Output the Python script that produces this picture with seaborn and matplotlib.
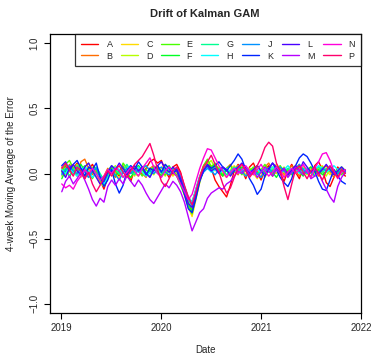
import numpy as np
import pandas as pd
import matplotlib
matplotlib.use("Agg")
import matplotlib.pyplot as plt
import matplotlib.dates as mdates
from matplotlib.lines import Line2D
import seaborn as sns

labels = ["A", "B", "C", "D", "E", "F", "G", "H", "J", "K", "L", "M", "N", "P"]
colors = ["#FF0000", "#FF6D00", "#FFDB00", "#B6FF00", "#49FF00", "#00FF24", "#00FF92",
          "#00FFFF", "#0092FF", "#0024FF", "#4900FF", "#B600FF", "#FF00DB", "#FF006D"]

start_date = "2019-01-04"
n_points = 75
step_days = 14

A = [0.02, 0.06, -0.03, 0.04, 0.08, 0.01, -0.04, 0.03, 0.07, 0.02, -0.05, -0.12, -0.03, 0.04, 0.01,
     -0.02, 0.05, 0.00, -0.06, 0.03, 0.06, -0.01, 0.04, 0.09, 0.11, 0.08, 0.10, 0.02, -0.03, 0.05,
     0.07, 0.01, -0.10, -0.18, -0.22, -0.12, -0.02, 0.06, 0.10, 0.04, -0.05, -0.10, -0.14, -0.18, -0.09,
     0.02, 0.07, 0.03, -0.04, 0.05, 0.08, 0.01, -0.05, 0.03, 0.06, -0.02, 0.04, 0.00, -0.06, 0.02,
     0.07, 0.01, -0.04, 0.05, 0.02, -0.03, 0.06, 0.09, 0.03, -0.07, -0.10, -0.03, 0.05, 0.01, -0.02]
B = [0.05, 0.01, 0.07, 0.03, -0.02, 0.09, 0.11, 0.04, -0.01, 0.03, -0.06, -0.02, 0.04, 0.00, -0.03,
     0.02, 0.06, 0.01, -0.04, 0.02, 0.05, 0.00, -0.03, 0.04, 0.06, 0.02, -0.02, 0.05, 0.01, -0.01,
     0.03, -0.06, -0.14, -0.22, -0.28, -0.16, -0.04, 0.05, 0.08, 0.03, 0.06, 0.01, -0.02, 0.04, 0.07,
     0.02, -0.01, 0.05, 0.03, -0.02, 0.04, 0.01, -0.03, 0.05, 0.08, 0.02, 0.00, 0.04, -0.01, 0.03,
     0.06, 0.02, -0.02, 0.04, 0.01, 0.05, 0.02, -0.02, 0.03, 0.06, 0.01, -0.03, 0.02, 0.04, 0.00]
C = [-0.02, 0.04, 0.01, 0.06, 0.02, -0.03, 0.05, 0.08, 0.03, -0.02, -0.08, -0.04, 0.02, 0.05, 0.00,
     -0.04, 0.03, 0.06, 0.01, -0.02, 0.04, 0.02, -0.01, 0.03, 0.05, 0.00, 0.04, 0.07, 0.02, -0.02,
     0.01, -0.08, -0.17, -0.26, -0.33, -0.20, -0.06, 0.04, 0.09, 0.06, 0.02, 0.05, 0.00, -0.03, 0.03,
     0.06, 0.02, 0.04, -0.01, 0.03, 0.00, -0.04, 0.02, 0.05, 0.01, 0.04, 0.07, 0.02, -0.02, 0.01,
     0.04, 0.00, 0.03, 0.05, 0.01, -0.03, 0.02, 0.04, 0.06, 0.02, -0.01, 0.03, 0.01, 0.05, 0.02]
D = [0.03, -0.01, 0.05, 0.02, 0.07, 0.03, -0.02, 0.02, 0.05, 0.01, -0.07, -0.10, -0.02, 0.03, 0.06,
     0.01, -0.03, 0.02, 0.05, 0.00, -0.02, 0.03, 0.06, 0.02, -0.01, 0.04, 0.01, -0.02, 0.03, 0.00,
     0.04, -0.04, -0.13, -0.24, -0.30, -0.19, -0.07, 0.03, 0.07, 0.10, 0.04, 0.00, 0.05, 0.02, -0.01,
     0.03, 0.06, 0.01, -0.02, 0.04, 0.02, 0.06, 0.01, -0.03, 0.03, 0.05, 0.00, 0.02, 0.05, -0.02,
     0.01, 0.04, 0.07, 0.02, -0.01, 0.03, 0.00, 0.05, 0.02, -0.02, 0.04, 0.01, -0.01, 0.03, 0.00]
E = [0.01, 0.07, 0.10, 0.04, -0.01, 0.03, 0.06, 0.00, -0.04, 0.02, -0.05, -0.09, -0.01, 0.05, 0.02,
     -0.01, 0.08, 0.04, 0.00, 0.05, 0.02, -0.02, 0.03, 0.00, 0.04, 0.06, 0.01, -0.01, 0.04, 0.02,
     -0.01, -0.07, -0.15, -0.25, -0.31, -0.17, -0.04, 0.06, 0.11, 0.05, 0.08, 0.03, -0.01, 0.04, 0.06,
     0.01, 0.03, -0.01, 0.04, 0.02, 0.05, 0.00, 0.03, 0.07, 0.02, -0.01, 0.04, 0.06, 0.01, 0.03,
     -0.01, 0.02, 0.05, 0.00, 0.04, 0.02, -0.02, 0.03, 0.05, 0.01, 0.04, 0.00, 0.02, -0.01, 0.03]
F = [-0.04, 0.02, 0.05, 0.00, 0.03, 0.07, 0.02, -0.03, 0.01, 0.04, -0.03, -0.07, 0.00, 0.04, -0.02,
     0.02, 0.05, 0.00, -0.03, 0.02, 0.06, 0.03, -0.01, 0.02, 0.05, 0.01, -0.02, 0.03, 0.06, 0.01,
     -0.02, -0.09, -0.16, -0.23, -0.29, -0.18, -0.05, 0.02, 0.06, 0.03, 0.07, 0.02, -0.02, 0.03, 0.00,
     0.04, 0.01, 0.05, 0.02, -0.01, 0.03, 0.06, 0.02, 0.00, 0.04, 0.01, -0.03, 0.02, 0.04, 0.00,
     0.03, 0.06, 0.01, -0.02, 0.03, 0.05, 0.01, 0.03, -0.01, 0.02, 0.05, 0.02, 0.00, 0.03, 0.01]
G = [0.00, 0.04, -0.02, 0.03, 0.06, 0.01, 0.04, -0.01, 0.02, 0.05, 0.00, -0.05, 0.02, 0.06, 0.03,
     0.00, 0.03, 0.07, 0.02, -0.01, 0.03, 0.05, 0.01, -0.02, 0.02, 0.04, 0.00, 0.03, 0.01, 0.04,
     0.02, -0.05, -0.12, -0.20, -0.25, -0.14, -0.03, 0.03, 0.05, 0.02, 0.05, 0.01, 0.03, -0.01, 0.02,
     0.05, 0.03, 0.00, 0.04, 0.01, 0.03, -0.01, 0.02, 0.04, 0.01, 0.03, 0.05, 0.01, 0.02, 0.04,
     0.00, 0.03, 0.01, 0.04, 0.02, 0.00, 0.03, 0.05, 0.01, 0.04, 0.02, 0.00, 0.03, 0.05, 0.02]
H = [0.03, 0.00, 0.04, 0.01, -0.02, 0.03, 0.05, 0.02, -0.03, 0.00, -0.04, -0.08, -0.03, 0.02, 0.05,
     0.03, 0.00, 0.04, 0.06, 0.02, 0.05, 0.01, -0.02, 0.01, 0.03, 0.00, 0.02, 0.05, 0.03, 0.01,
     0.03, -0.03, -0.10, -0.18, -0.22, -0.12, -0.02, 0.02, 0.04, 0.01, 0.03, 0.00, 0.02, 0.04, 0.01,
     0.03, 0.00, 0.02, 0.05, 0.02, 0.00, 0.03, 0.01, 0.04, 0.02, 0.05, 0.03, 0.00, 0.03, 0.06,
     0.02, 0.04, 0.00, 0.02, 0.04, 0.01, 0.03, 0.06, 0.04, 0.01, 0.03, 0.06, 0.03, 0.01, 0.02]
J = [-0.01, 0.03, 0.06, 0.02, 0.00, 0.04, 0.01, -0.03, 0.02, 0.04, -0.02, -0.06, 0.00, 0.03, -0.01,
     -0.05, 0.01, 0.04, 0.00, 0.03, 0.01, 0.04, 0.06, 0.02, 0.00, 0.03, 0.05, 0.01, -0.01, 0.02,
     0.04, -0.02, -0.11, -0.19, -0.24, -0.15, -0.04, 0.01, 0.04, 0.02, -0.01, 0.03, 0.05, 0.02, 0.00,
     0.03, 0.05, 0.02, -0.02, 0.01, 0.03, 0.00, -0.03, 0.02, 0.04, 0.01, 0.03, 0.05, 0.02, -0.01,
     0.02, 0.04, 0.07, 0.03, 0.00, 0.02, -0.02, 0.01, 0.04, 0.02, 0.05, 0.02, 0.00, 0.03, 0.01]
K = [0.06, 0.09, 0.02, 0.07, 0.10, 0.04, -0.02, 0.05, 0.03, 0.08, -0.03, -0.10, -0.05, 0.03, -0.08,
     -0.15, -0.09, 0.02, 0.06, 0.03, 0.09, 0.05, -0.01, 0.04, 0.02, 0.06, 0.01, 0.07, 0.04, 0.00,
     0.03, -0.06, -0.16, -0.27, -0.30, -0.19, -0.06, 0.02, 0.07, 0.04, 0.06, 0.09, 0.05, 0.02, 0.06,
     0.10, 0.15, 0.11, 0.03, -0.04, -0.09, -0.16, -0.12, -0.02, 0.04, 0.08, 0.03, -0.03, -0.07, -0.10,
     -0.04, 0.06, 0.12, 0.15, 0.13, 0.08, 0.02, -0.06, -0.12, -0.13, -0.05, 0.03, -0.02, -0.06, -0.08]
L = [0.02, -0.03, 0.04, 0.07, 0.02, -0.01, 0.05, 0.08, 0.02, -0.03, -0.08, -0.06, 0.01, 0.06, 0.03,
     0.08, 0.04, -0.01, 0.03, 0.06, 0.02, 0.05, 0.00, -0.03, 0.03, 0.06, 0.09, 0.04, 0.01, 0.05,
     0.02, -0.04, -0.13, -0.23, -0.26, -0.16, -0.05, 0.03, 0.06, 0.02, 0.04, 0.00, 0.05, 0.03, -0.02,
     0.02, 0.05, 0.08, 0.04, 0.00, 0.03, 0.06, 0.02, -0.02, 0.03, 0.08, 0.05, 0.01, 0.04, -0.01,
     0.03, 0.06, 0.02, 0.09, 0.05, 0.01, 0.04, 0.00, 0.03, 0.07, 0.03, -0.01, 0.02, 0.05, 0.02]
M = [-0.14, -0.06, -0.02, -0.08, -0.04, 0.01, -0.05, -0.12, -0.20, -0.25, -0.19, -0.22, -0.10, -0.05, -0.09,
     -0.04, -0.08, -0.02, -0.06, -0.10, -0.05, -0.09, -0.15, -0.20, -0.23, -0.18, -0.13, -0.08, -0.11, -0.06,
     -0.09, -0.14, -0.22, -0.33, -0.44, -0.37, -0.30, -0.27, -0.19, -0.15, -0.13, -0.11, -0.12, -0.08, -0.06,
     -0.02, 0.02, 0.00, 0.04, -0.01, 0.02, -0.03, 0.01, 0.05, 0.02, -0.02, 0.03, 0.00, 0.04, -0.03,
     0.01, 0.05, 0.02, -0.01, 0.03, -0.04, -0.02, 0.01, -0.06, -0.12, -0.18, -0.22, -0.10, -0.03, 0.01]
N = [-0.08, -0.11, -0.09, -0.12, -0.06, -0.02, 0.03, -0.01, 0.04, 0.00, -0.05, -0.02, 0.03, 0.00, 0.04,
     0.02, -0.03, 0.01, 0.05, 0.02, -0.02, 0.04, 0.08, 0.12, 0.05, 0.00, -0.03, 0.02, 0.05, 0.01,
     -0.02, -0.08, -0.14, -0.20, -0.16, -0.06, 0.04, 0.12, 0.19, 0.18, 0.12, 0.06, 0.02, -0.03, 0.01,
     0.04, 0.00, 0.03, 0.06, 0.02, -0.01, 0.03, 0.07, 0.02, -0.02, 0.01, 0.05, 0.02, -0.03, 0.01,
     0.04, 0.00, 0.03, 0.07, 0.02, -0.03, 0.04, 0.09, 0.15, 0.16, 0.10, 0.02, -0.04, 0.01, 0.03]
P = [0.04, 0.08, 0.03, -0.02, 0.05, 0.02, -0.04, 0.01, -0.08, -0.14, -0.09, -0.03, 0.02, -0.02, 0.03,
     0.06, 0.01, -0.03, 0.02, 0.07, 0.10, 0.13, 0.18, 0.23, 0.14, 0.03, -0.06, -0.10, -0.04, 0.02,
     0.05, 0.00, -0.09, -0.18, -0.24, -0.14, -0.03, 0.05, 0.09, 0.14, 0.07, 0.01, -0.08, -0.15, -0.11,
     -0.03, 0.04, 0.07, 0.02, -0.03, 0.01, 0.06, 0.12, 0.20, 0.24, 0.21, 0.08, 0.02, -0.10, -0.20,
     -0.08, 0.03, 0.06, 0.01, -0.04, 0.02, 0.05, 0.00, -0.05, 0.02, 0.06, 0.01, -0.03, 0.03, 0.00]

series = [A, B, C, D, E, F, G, H, J, K, L, M, N, P]
dates = pd.date_range(start_date, periods=n_points, freq=f"{step_days}D")

df = pd.concat(
    [pd.DataFrame({"Date": dates, "value": vals, "series": lab}) for lab, vals in zip(labels, series)],
    ignore_index=True,
)

sns.set_style("white")
plt.rcParams["font.family"] = ["Liberation Sans", "DejaVu Sans"]

fig = plt.figure(figsize=(3.71, 3.57), dpi=100)
ax = fig.add_axes([50 / 371, 1 - 313 / 357, 311 / 371, 279 / 357])

sns.lineplot(data=df, x="Date", y="value", hue="series", hue_order=labels,
             palette=dict(zip(labels, colors)), linewidth=1.0, ax=ax, legend=False)

ax.set_xlim(pd.Timestamp("2018-11-22"), pd.Timestamp("2022-01-01"))
ax.set_ylim(-1.07, 1.07)
ax.xaxis.set_major_locator(mdates.YearLocator())
ax.xaxis.set_major_formatter(mdates.DateFormatter("%Y"))
ax.set_yticks([-1.0, -0.5, 0.0, 0.5, 1.0])
ax.set_yticklabels(["\u22121.0", "\u22120.5", "0.0", "0.5", "1.0"], rotation=90, va="center")
ax.tick_params(axis="both", direction="out", length=4.5, width=0.8, labelsize=7, color="black",
               bottom=True, left=True, pad=3)
for sp in ax.spines.values():
    sp.set_visible(True)
    sp.set_color("black")
    sp.set_linewidth(0.9)

ax.set_xlabel("Date", fontsize=7, labelpad=8)
ax.set_ylabel("4-week Moving Average of the Error", fontsize=7, labelpad=10)
fig.text(205 / 371, 1 - 14 / 357, "Drift of Kalman GAM", ha="center", va="center",
         fontsize=8, fontweight="bold")

handles = [Line2D([0], [0], color=c, lw=1.0) for c in colors]
leg = ax.legend(handles, labels, ncol=7, loc="upper right", bbox_to_anchor=(1.0, 1.0),
                borderaxespad=0, frameon=True, fancybox=False, edgecolor="black",
                fontsize=6.5, handlelength=1.9, handletextpad=0.9, columnspacing=0.95,
                labelspacing=0.3, borderpad=0.65)
leg.get_frame().set_linewidth(0.9)

fig.savefig("out.png", dpi=100)
